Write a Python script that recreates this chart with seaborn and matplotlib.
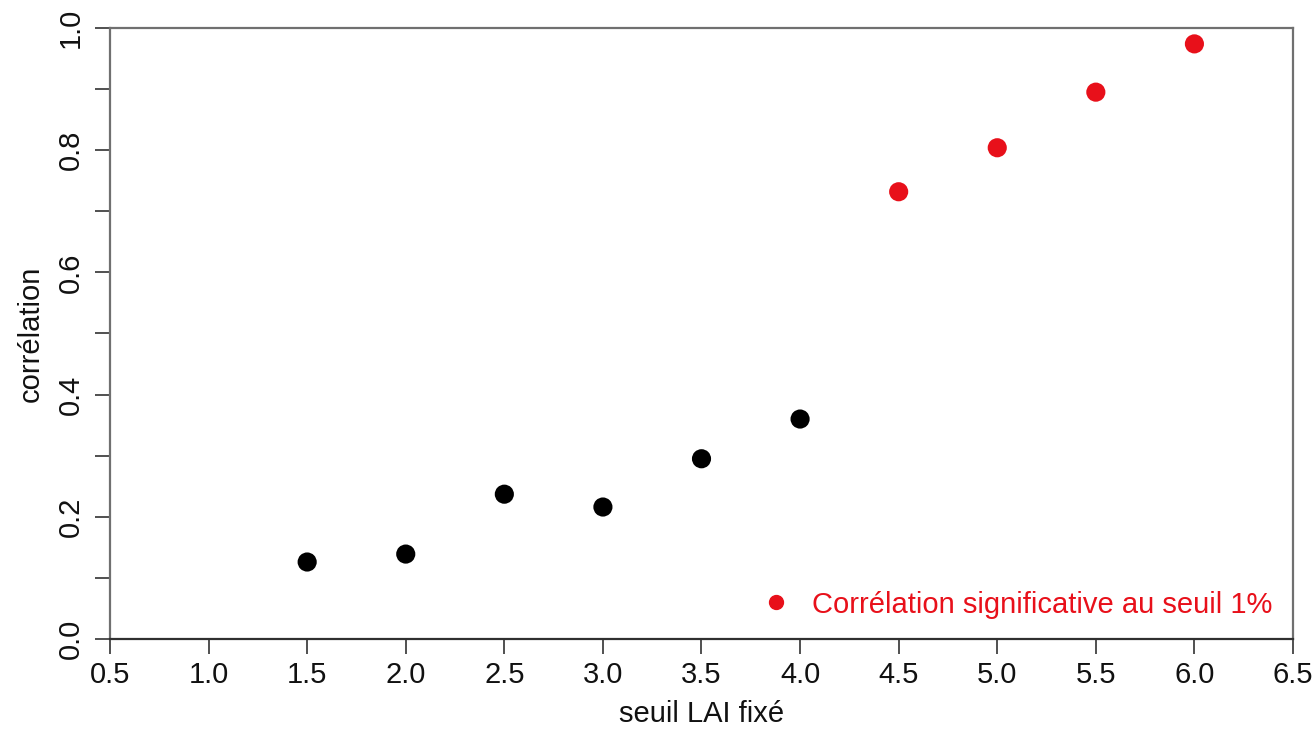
import numpy as np
import pandas as pd
import seaborn as sns
import matplotlib.pyplot as plt
from matplotlib.lines import Line2D
from matplotlib.ticker import MultipleLocator

# values
seuil = [1.5, 2.0, 2.5, 3.0, 3.5, 4.0, 4.5, 5.0, 5.5, 6.0]
correlation = [0.126, 0.139, 0.237, 0.216, 0.295, 0.360, 0.732, 0.804, 0.895, 0.974]
significatif = ["non", "non", "non", "non", "non", "non", "oui", "oui", "oui", "oui"]
legende = "Corrélation significative au seuil 1%"

df = pd.DataFrame({"seuil": seuil, "correlation": correlation, "sig": significatif})

sns.set_theme(style="ticks")
plt.rcParams["font.family"] = ["Liberation Sans", "DejaVu Sans"]

fig = plt.figure(figsize=(13.15, 7.31), dpi=100)
ax = fig.add_axes([110 / 1315, 92 / 731, 1183 / 1315, 611 / 731])

sns.scatterplot(data=df, x="seuil", y="correlation", hue="sig",
                palette={"non": "black", "oui": "#e8101a"}, s=190,
                linewidth=0, legend=False, ax=ax, clip_on=False)

ax.set_xlim(0.5, 6.5)
ax.set_ylim(0, 1.0)
ax.yaxis.set_minor_locator(MultipleLocator(0.1))
ax.set_xticks(np.arange(0.5, 6.51, 0.5))
ax.set_xticklabels([f"{v:.1f}" for v in np.arange(0.5, 6.51, 0.5)])
ax.set_yticks(np.arange(0, 1.01, 0.2))
ax.set_yticklabels([f"{v:.1f}" for v in np.arange(0, 1.01, 0.2)],
                   rotation=90, va="center")

for side in ["top", "right", "left"]:
    ax.spines[side].set_color("#707070")
    ax.spines[side].set_linewidth(1.6)
ax.spines["bottom"].set_color("#303030")
ax.spines["bottom"].set_linewidth(1.6)

fs = 21
ax.tick_params(axis="both", which="both", direction="out", length=11,
               width=1.4, color="#505050", labelsize=fs, labelcolor="#111111")
ax.tick_params(axis="x", pad=5)
ax.tick_params(axis="y", pad=7)

ax.set_xlabel("seuil LAI fixé", fontsize=fs, labelpad=8, color="#111111")
ax.set_ylabel("corrélation", fontsize=fs, labelpad=9, color="#111111")

handle = Line2D([], [], marker="o", linestyle="none", color="#e8101a",
                markersize=10)
leg = ax.legend([handle], [legende], loc="lower right", frameon=False,
                fontsize=fs, handletextpad=0.25, borderaxespad=0.3,
                bbox_to_anchor=(1.0, 0.0))
for t in leg.get_texts():
    t.set_color("#e8101a")

fig.savefig("out.png", dpi=100)
